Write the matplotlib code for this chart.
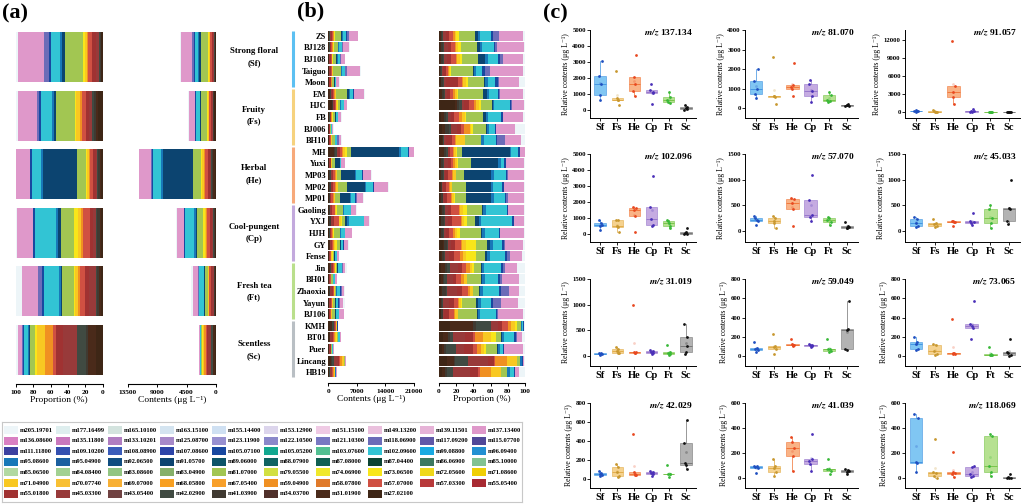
import numpy as np
import matplotlib
matplotlib.use("Agg")
import matplotlib.pyplot as plt
from matplotlib.patches import Rectangle
import matplotlib.transforms as mtransforms

plt.rcParams['font.family'] = ['Liberation Serif', 'DejaVu Serif']
plt.rcParams['font.weight'] = 'bold'
plt.rcParams['mathtext.fontset'] = 'stix'
plt.rcParams['axes.linewidth'] = 0.8

W, H = 1024, 504

groups = ['Sf', 'Fs', 'He', 'Cp', 'Ft', 'Sc']
group_names = ['Strong floral\n(Sf)', 'Fruity\n(Fs)', 'Herbal\n(He)',
               'Cool-pungent\n(Cp)', 'Fresh tea\n(Ft)', 'Scentless\n(Sc)']
group_bar_colors = ['#5cc0f2', '#f6d27e', '#f7a97a', '#c3a9dd', '#badf8c', '#b9bfc4']
samples = ['ZS', 'BJ128', 'BJ108', 'Taiguo', 'Moon',
           'EM', 'HJC', 'FB', 'BJ006', 'BH10',
           'MH', 'Yuxi', 'MP03', 'MP02', 'MP01',
           'Gaoling', 'YXJ', 'HJH', 'GY', 'Fense',
           'Jin', 'BH01', 'Zhaoxia', 'Yayun', 'BJ106',
           'KMH', 'BT01', 'Puer', 'Lincang', 'HB19']

# legend entries (row by row as in the figure)
legend_labels = [
    'm205.19701', 'm177.16499', 'm165.10100', 'm163.15100', 'm155.14400', 'm153.12900', 'm151.15100', 'm149.13200', 'm139.11501', 'm137.13400',
    'm136.08600', 'm135.11800', 'm133.10201', 'm125.08700', 'm123.11900', 'm122.10500', 'm121.10300', 'm118.06900', 'm117.09200', 'm115.07700',
    'm111.11800', 'm109.10200', 'm108.08900', 'm107.08600', 'm105.07100', 'm105.05200', 'm103.07600', 'm102.09600', 'm99.08800', 'm96.09400',
    'm95.08600', 'm95.04900', 'm92.06500', 'm91.05700', 'm89.06000', 'm88.07900', 'm87.08000', 'm87.04400', 'm86.06900', 'm85.10000',
    'm85.06500', 'm84.08400', 'm83.08600', 'm83.04900', 'm81.07000', 'm79.05500', 'm74.06900', 'm73.06500', 'm72.05600', 'm71.08600',
    'm71.04900', 'm70.07740', 'm69.07000', 'm68.05800', 'm67.05400', 'm59.04900', 'm58.07800', 'm57.07000', 'm57.03300', 'm55.05400',
    'm55.01800', 'm45.03300', 'm43.05400', 'm42.02900', 'm41.03900', 'm34.03700', 'm31.01900', 'm27.02100']
legend_colors = [
    '#edf5f8', '#deeeee', '#d3e3de', '#d4e4f0', '#cfe0f2', '#dcd5ec', '#efcae4', '#eac0dd', '#e6b3d7', '#df98ca',
    '#d880c2', '#c978bd', '#b07dc1', '#a789c9', '#9890d0', '#8a88ca', '#7878c2', '#6c6cb8', '#6058a8', '#504898',
    '#3c40a0', '#3450b0', '#3a5cba', '#2c44a8', '#1848a0', '#12a890', '#52c092', '#32c4d4', '#18aae2', '#2290d2',
    '#1878b8', '#1c60a0', '#104d80', '#0c4470', '#0c5468', '#106462', '#106052', '#0c4434', '#3c7860', '#82c292',
    '#b2d9a2', '#a2d192', '#92c582', '#86b06a', '#a2c652', '#d2e042', '#f0e82a', '#f8e61a', '#f0d81a', '#f0cf04',
    '#f8c822', '#f8c034', '#f8b034', '#f8a022', '#f8a02a', '#f09022', '#e07a2a', '#d05042', '#b8393a', '#a82a32',
    '#a03232', '#983a3a', '#704242', '#404a42', '#403a32', '#50302a', '#4a2a1a', '#3e2616']
color_of = dict(zip(legend_labels, legend_colors))

# contents (ug/L) per sample, same order as `samples`
c27_021 = [100, 80, 60, 100, 60, 150, 850, 80, 40, 100, 300, 60, 150, 200, 120,
           150, 200, 80, 250, 60, 120, 40, 120, 60, 80, 300, 150, 50, 400, 80]
c31_019 = [60, 50, 40, 30, 20, 170, 140, 100, 60, 50, 1000, 50, 80, 70, 60,
           110, 90, 70, 50, 40, 220, 70, 50, 30, 20, 620, 200, 30, 360, 80]
c41_039 = [100, 95, 90, 80, 40, 150, 100, 80, 50, 20, 330, 60, 290, 240, 180,
           140, 350, 110, 150, 60, 75, 30, 150, 60, 70, 75, 65, 35, 60, 45]
c42_029 = [90, 70, 60, 50, 40, 160, 130, 80, 40, 30, 480, 60, 80, 50, 50,
           90, 80, 70, 60, 40, 150, 60, 60, 60, 20, 380, 110, 170, 620, 150]
c45_033 = [280, 230, 150, 100, 80, 240, 150, 130, 100, 80, 200, 180, 190, 180, 100,
           200, 350, 150, 180, 110, 420, 150, 500, 250, 50, 200, 420, 130, 1000, 440]
c55_018 = [250, 200, 150, 250, 400, 250, 250, 100, 60, 200, 500, 150, 300, 400, 250,
           300, 400, 200, 250, 150, 250, 100, 250, 250, 200, 100, 300, 150, 300, 200]
c57_070 = [300, 220, 250, 200, 120, 300, 250, 200, 50, 150, 650, 100, 550, 620, 420,
           600, 1100, 280, 320, 200, 220, 120, 280, 180, 250, 170, 90, 50, 70, 60]
c59_049 = [150, 90, 80, 70, 40, 230, 110, 100, 80, 20, 180, 110, 130, 120, 120,
           130, 120, 115, 110, 100, 180, 80, 75, 60, 40, 80, 280, 70, 570, 270]
c71_049 = [150, 150, 100, 150, 100, 200, 200, 100, 30, 350, 500, 100, 300, 400, 250,
           200, 300, 150, 200, 100, 100, 60, 150, 100, 150, 100, 300, 60, 500, 250]
c73_065 = [200, 150, 130, 80, 70, 130, 120, 60, 20, 10, 390, 30, 30, 20, 20,
           330, 290, 180, 570, 310, 100, 20, 15, 10, 10, 50, 180, 30, 10, 5]
c81_070 = [1400, 1000, 750, 2000, 500, 2600, 550, 650, 200, 600, 1100, 650, 1000, 2300, 1200,
           1250, 900, 1450, 650, 300, 400, 350, 300, 700, 850, 100, 200, 180, 120, 150]
c91_057 = [250, 150, 350, 100, 50, 400, 50, 100, 30, 20, 11800, 1300, 3400, 4300, 2500,
           50, 500, 100, 200, 50, 60, 40, 50, 60, 40, 10, 20, 10, 30, 20]
c95_086 = [200, 150, 120, 250, 80, 250, 100, 80, 20, 100, 400, 120, 250, 350, 250,
           200, 300, 150, 150, 80, 120, 60, 130, 130, 130, 30, 80, 30, 80, 60]
c102_096 = [900, 700, 500, 550, 250, 900, 850, 500, 100, 450, 1700, 150, 1500, 1600, 1100,
            1700, 3650, 950, 550, 500, 900, 350, 800, 500, 700, 20, 400, 50, 10, 100]
c105_071 = [150, 100, 100, 200, 80, 150, 60, 50, 20, 60, 300, 80, 200, 300, 150,
            100, 200, 80, 80, 50, 100, 40, 100, 100, 80, 20, 60, 20, 50, 40]
c118_069 = [510, 120, 130, 480, 50, 50, 40, 20, 0, 310, 30, 10, 50, 40, 210,
            30, 20, 10, 100, 90, 100, 50, 350, 340, 20, 0, 30, 5, 0, 0]
c137_134 = [2100, 1600, 950, 3050, 650, 2450, 650, 750, 300, 600, 1200, 850, 2050, 3450, 1600,
            1250, 1100, 1600, 1050, 400, 650, 450, 500, 800, 1150, 10, 200, 300, 50, 100]
c205_197 = [150, 80, 100, 200, 200, 200, 60, 80, 150, 150, 100, 60, 100, 150, 100,
            100, 150, 100, 100, 80, 400, 150, 300, 350, 100, 30, 100, 40, 50, 150]

# stacking order: small m/z first (left in panel b)
stack = [('m27.02100', c27_021), ('m31.01900', c31_019), ('m41.03900', c41_039),
         ('m42.02900', c42_029), ('m45.03300', c45_033), ('m55.01800', c55_018),
         ('m57.07000', c57_070), ('m59.04900', c59_049), ('m71.04900', c71_049),
         ('m73.06500', c73_065), ('m81.07000', c81_070), ('m91.05700', c91_057),
         ('m95.08600', c95_086), ('m102.09600', c102_096), ('m105.07100', c105_071),
         ('m118.06900', c118_069), ('m137.13400', c137_134), ('m205.19701', c205_197)]

# panel (c) layout: (title, data, y-top, tick step, y-bottom)
box_panels = [('137.134', c137_134, 5000, 1000, -500), ('81.070', c81_070, 4000, 1000, -500),
              ('91.057', c91_057, 13700, 3000, -1000), ('102.096', c102_096, 5000, 1000, -500),
              ('57.070', c57_070, 1500, 500, -215), ('45.033', c45_033, 1500, 500, -215),
              ('31.019', c31_019, 1500, 500, -200), ('59.049', c59_049, 800, 200, -100),
              ('73.065', c73_065, 800, 200, -100), ('42.029', c42_029, 800, 200, -90),
              ('41.039', c41_039, 600, 200, -80), ('118.069', c118_069, 600, 200, -80)]
tick_tops = [5000, 4000, 12000, 5000, 1500, 1500, 1500, 800, 800, 800, 600, 600]

box_fill = ['#56b4f0', '#f2c46a', '#f79a5e', '#b28fd8', '#9ed86c', '#9a9a9a']
box_edge = ['#3a8ee0', '#e0a840', '#f07030', '#9070c8', '#70c040', '#707070']
dot_col = ['#1f4fc0', '#c89830', '#e84820', '#4a30b8', '#38b838', '#111111']
jit = [-0.09, 0.06, -0.03, 0.1, 0.01]

fig = plt.figure(figsize=(W / 100, H / 100), dpi=100)


def px_axes(left, top, right, bottom):
    return fig.add_axes([left / W, 1 - bottom / H, (right - left) / W, (bottom - top) / H])


def style_bar_axis(ax):
    for s in ['top', 'right', 'left']:
        ax.spines[s].set_visible(False)
    ax.set_yticks([])
    ax.tick_params(axis='x', labelsize=5.3, length=2.5, width=0.7, pad=1.5)
    ax.set_facecolor('none')


cont = np.array([v for _, v in stack], dtype=float)   # compounds x samples
totals = cont.sum(axis=0)
gmeans = cont.reshape(len(stack), 6, 5).mean(axis=2)   # compounds x groups
gtotals = gmeans.sum(axis=0)

# ---------------- panel (a) ----------------
ax_ap = px_axes(15.7, 27.7, 102.7, 384)
ax_ac = px_axes(128, 27.7, 216, 384)
ya = np.arange(6)
left_p = np.zeros(6)
left_c = np.zeros(6)
for k, (lab, _) in enumerate(stack):
    p = gmeans[k] / gtotals * 100
    ax_ap.barh(ya, p, left=left_p, height=0.855, color=color_of[lab], lw=0)
    ax_ac.barh(ya, gmeans[k], left=left_c, height=0.855, color=color_of[lab], lw=0)
    left_p += p
    left_c += gmeans[k]
ax_ap.set_xlim(100, 0)
ax_ap.set_xticks([100, 80, 60, 40, 20, 0])
ax_ac.set_xlim(13500, 0)
ax_ac.set_xticks([13500, 9000, 4500, 0])
for ax in (ax_ap, ax_ac):
    ax.set_ylim(5.58, -0.5)
    style_bar_axis(ax)
ax_ap.set_xlabel('Proportion (%)', fontsize=6.8, labelpad=1)
ax_ac.set_xlabel('Contents (μg L⁻¹)', fontsize=6.8, labelpad=1)
tr = mtransforms.blended_transform_factory(fig.transFigure, ax_ac.transData)
for i, name in enumerate(group_names):
    ax_ac.text(254 / W, i, name, transform=tr, ha='center', va='center',
               fontsize=6.3, linespacing=1.6)

# ---------------- panel (b) ----------------
ax_bc = px_axes(328.3, 30, 414, 383)
ax_bp = px_axes(439, 30, 525, 383)
yb = np.arange(len(samples))
left_c = np.zeros(len(samples))
left_p = np.zeros(len(samples))
for k, (lab, vals) in enumerate(stack):
    v = np.array(vals, dtype=float)
    p = v / totals * 100
    ax_bc.barh(yb, v, left=left_c, height=0.86, color=color_of[lab], lw=0)
    ax_bp.barh(yb, p, left=left_p, height=0.86, color=color_of[lab], lw=0)
    left_c += v
    left_p += p
ax_bc.set_xlim(0, 21000)
ax_bc.set_xticks([0, 7000, 14000, 21000])
ax_bp.set_xlim(0, 100)
ax_bp.set_xticks([0, 20, 40, 60, 80, 100])
for ax in (ax_bc, ax_bp):
    ax.set_ylim(29.93, -0.5)
    style_bar_axis(ax)
ax_bc.set_yticks(yb)
ax_bc.set_yticklabels(samples, fontsize=6)
ax_bc.tick_params(axis='y', length=0, pad=1.5)
ax_bc.set_xlabel('Contents (μg L⁻¹)', fontsize=6.8, labelpad=1)
ax_bp.set_xlabel('Proportion (%)', fontsize=6.8, labelpad=1)

ax_g = px_axes(290, 30, 296, 383)
ax_g.set_ylim(29.93, -0.5)
ax_g.set_xlim(0, 1)
ax_g.axis('off')
for i in range(6):
    ax_g.vlines(0.5, i * 5 - 0.4, i * 5 + 4.4, color=group_bar_colors[i], lw=2.2)

# ---------------- legend ----------------
ax_l = px_axes(2, 421.5, 522, 502)
ax_l.set_xlim(0, 10)
ax_l.set_ylim(7.6, 0)
ax_l.set_xticks([])
ax_l.set_yticks([])
for s in ax_l.spines.values():
    s.set_color('#c8c8c8')
    s.set_linewidth(0.8)
for i, (lab, col) in enumerate(zip(legend_labels, legend_colors)):
    r, c = divmod(i, 10)
    y0 = 0.3 + r
    ax_l.add_patch(Rectangle((c + 0.03, y0 + 0.12), 0.28, 0.76, color=col, lw=0))
    ax_l.text(c + 0.35, y0 + 0.52, lab, fontsize=4.7, va='center', ha='left')

# ---------------- panel (c) ----------------
col_x = [(590, 696), (745, 858), (905, 1020)]
row_y = [(30, 118), (154, 242), (279, 366), (403, 488)]
for n, (title, vals, ytop, step, ybot) in enumerate(box_panels):
    r, c = divmod(n, 3)
    ax = px_axes(col_x[c][0], row_y[r][0], col_x[c][1], row_y[r][1])
    data = np.array(vals, dtype=float).reshape(6, 5)
    for g in range(6):
        bp = ax.boxplot(data[g], positions=[g + 1], widths=0.68, patch_artist=True,
                        showfliers=False, showcaps=False)
        for b in bp['boxes']:
            b.set_facecolor(box_fill[g])
            b.set_alpha(0.75)
            b.set_edgecolor(box_edge[g])
            b.set_linewidth(0.5)
        for w in bp['whiskers']:
            w.set_color(box_edge[g])
            w.set_linewidth(0.5)
        for m in bp['medians']:
            m.set_color(box_edge[g])
            m.set_linewidth(0.6)
        ax.scatter(g + 1 + np.array(jit), data[g], s=4, color=dot_col[g], lw=0, zorder=3)
        ax.scatter([g + 1], [data[g].mean()], s=4, color=dot_col[g], alpha=0.25, lw=0, zorder=3)
    ax.set_xlim(0.4, 6.6)
    ax.set_ylim(ybot, ytop)
    ax.set_yticks(np.arange(0, tick_tops[n] + 1, step))
    ax.set_xticks(range(1, 7))
    ax.set_xticklabels(groups, fontsize=7.5)
    ax.tick_params(axis='y', labelsize=4.9, length=2, width=0.6, pad=1)
    ax.tick_params(axis='x', length=2, width=0.6, pad=1.5)
    for s in ['top', 'right']:
        ax.spines[s].set_visible(False)
    ax.spines['left'].set_linewidth(0.7)
    ax.spines['bottom'].set_linewidth(0.7)
    ax.set_ylabel('Relative contents (μg L⁻¹)', fontsize=5.6, labelpad=2)
    ax.text(0.97, 0.965, r'$\mathbfit{m/z}$ ' + title, transform=ax.transAxes,
            ha='right', va='center', fontsize=6.8)

# panel letters
fig.text(2 / W, 1 - 13 / H, '(a)', fontsize=16, va='center', ha='left')
fig.text(297 / W, 1 - 11 / H, '(b)', fontsize=16, va='center', ha='left')
fig.text(543 / W, 1 - 13 / H, '(c)', fontsize=16, va='center', ha='left')

fig.savefig('out.png', dpi=100)
